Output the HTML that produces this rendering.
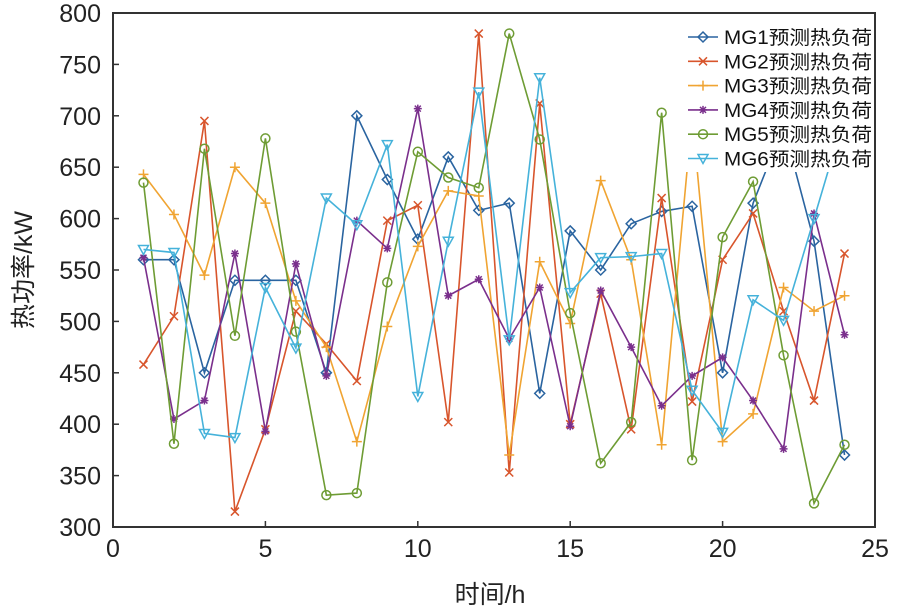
<!DOCTYPE html>
<html><head><meta charset="utf-8"><style>
body{margin:0;background:#fff;}
svg text{font-family:"Liberation Sans","Noto Sans CJK SC",sans-serif;}
</style></head><body>
<svg id="chart" width="902" height="611" xmlns="http://www.w3.org/2000/svg">
<rect x="113" y="13" width="762" height="514" fill="#fff" stroke="#333" stroke-width="2"/>
<g id="grid"></g><g id="series"></g><g id="legend"></g>
<text x="490" y="603" font-size="25" text-anchor="middle" fill="#222">时间/h</text>
<text transform="translate(32,270) rotate(-90)" font-size="25" text-anchor="middle" fill="#222">热功率/kW</text>
</svg>
<script>
const hours=[1,2,3,4,5,6,7,8,9,10,11,12,13,14,15,16,17,18,19,20,21,22,23,24];
const mg1=[560,560,450,540,540,540,450,700,638,580,660,608,615,430,588,550,595,607,612,450,615,690,578,370];
const mg2=[458,505,695,315,395,510,478,442,598,613,402,780,353,712,400,527,395,620,422,560,605,510,423,566];
const mg3=[643,604,545,650,615,520,475,383,495,573,627,622,370,558,498,637,560,380,700,383,410,533,510,525];
const mg4=[562,405,423,566,393,556,447,598,571,707,525,541,483,533,398,530,475,418,447,465,423,376,605,487];
const mg5=[635,381,668,486,678,490,331,333,538,665,640,630,780,677,508,362,402,703,365,582,636,467,323,380];
const mg6=[570,567,391,387,533,474,620,594,672,427,578,723,482,737,528,562,563,566,433,392,521,501,600,700];
const xTicks=[0,5,10,15,20,25];
const yTicks=[300,350,400,450,500,550,600,650,700,750,800];
const names=["MG1预测热负荷","MG2预测热负荷","MG3预测热负荷","MG4预测热负荷","MG5预测热负荷","MG6预测热负荷"];
const NS="http://www.w3.org/2000/svg";
const X=v=>113+v*(762/25), Y=v=>527-(v-300)*(514/500);
function mk(t,a,p){const e=document.createElementNS(NS,t);for(const k in a)e.setAttribute(k,a[k]);p.appendChild(e);return e;}
const g=document.getElementById('grid');
xTicks.forEach(t=>{const l=mk('line',{x1:X(t),x2:X(t),y1:527,y2:521,stroke:'#333','stroke-width':1.5},g);

const tx=mk('text',{x:X(t),y:557,'font-size':25,'text-anchor':'middle',fill:'#222'},g);tx.textContent=t;
});
yTicks.forEach(t=>{const l=mk('line',{x1:113,x2:119,y1:Y(t),y2:Y(t),stroke:'#333','stroke-width':1.5},g);

const tx=mk('text',{x:101,y:Y(t)+9,'font-size':25,'text-anchor':'end',fill:'#222'},g);tx.textContent=t;
});
const data=[mg1,mg2,mg3,mg4,mg5,mg6];
const colors=['#2a64a0','#d8552c','#f0a432','#7a2f8c','#6e9c34','#45b2da'];
const kinds=['diamond','x','plus','star','circle','tri'];
function marker(k,x,y,c,p){
 let e;
 if(k==='diamond')e=mk('path',{d:`M${x},${y-5}L${x+5},${y}L${x},${y+5}L${x-5},${y}Z`,fill:'none',stroke:c,'stroke-width':1.5},p);
 else if(k==='x')e=mk('path',{d:`M${x-4},${y-4}L${x+4},${y+4}M${x-4},${y+4}L${x+4},${y-4}`,stroke:c,'stroke-width':1.5},p);
 else if(k==='plus')e=mk('path',{d:`M${x-5},${y}L${x+5},${y}M${x},${y-5}L${x},${y+5}`,stroke:c,'stroke-width':1.5},p);
 else if(k==='star')e=mk('path',{d:`M${x-4},${y}L${x+4},${y}M${x},${y-4}L${x},${y+4}M${x-3},${y-3}L${x+3},${y+3}M${x-3},${y+3}L${x+3},${y-3}`,stroke:c,'stroke-width':1.5},p);
 else if(k==='circle')e=mk('circle',{cx:x,cy:y,r:4.5,fill:'none',stroke:c,'stroke-width':1.5},p);
 else e=mk('path',{d:`M${x-5},${y-4}L${x+5},${y-4}L${x},${y+5}Z`,fill:'none',stroke:c,'stroke-width':1.5},p);
 return e;}
const s=document.getElementById('series');
data.forEach((arr,i)=>{
 const gg=mk('g',{},s);
 
 
 const pl=mk('polyline',{points:arr.map((v,j)=>X(hours[j])+','+Y(v)).join(' '),fill:'none',stroke:colors[i],'stroke-width':1.6},gg);
 
 
 arr.forEach((v,j)=>{const m=marker(kinds[i],X(hours[j]),Y(v),colors[i],gg);
  
  });
});
const lg=document.getElementById('legend');
const bg=mk('rect',{x:684,y:22,width:190,height:150,fill:'#fff'},lg);

names.forEach((n,i)=>{const y=37+i*24.3;
 const eg=mk('g',{},lg);
 
 
 mk('line',{x1:688,x2:718,y1:y,y2:y,stroke:colors[i],'stroke-width':1.6},eg);
 marker(kinds[i],703,y,colors[i],eg);
 const t=mk('text',{x:724,y:y+7,'font-size':19,fill:'#111',textLength:148,lengthAdjust:'spacingAndGlyphs'},eg);t.textContent=n;});
</script>
</body></html>
